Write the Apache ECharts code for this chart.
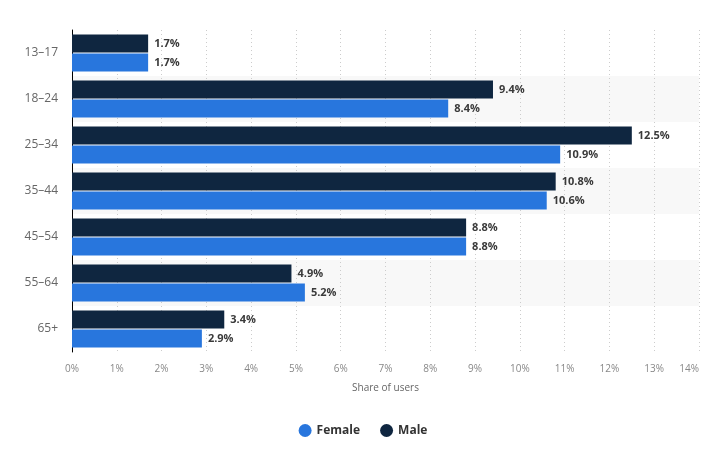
<!DOCTYPE html>
<html><head><meta charset="utf-8">
<script src="https://cdn.jsdelivr.net/npm/echarts@6/dist/echarts.min.js"></script>
<style>html,body{margin:0;padding:0;background:#fff}#c{width:726px;height:460px}</style>
</head><body><div id="c"></div>
<script>
const categories = ['13–17','18–24','25–34','35–44','45–54','55–64','65+'];
const maleValues = [1.7, 9.4, 12.5, 10.8, 8.8, 4.9, 3.4];
const femaleValues = [1.7, 8.4, 10.9, 10.6, 8.8, 5.2, 2.9];
const seriesNames = ['Female', 'Male'];
const axisTitle = 'Share of users';

const font = 'Open Sans';
const chart = echarts.init(document.getElementById('c'));
const labelCfg = {
  show: true, position: 'right', distance: 6,
  formatter: p => p.value + '%',
  color: '#3a3a3a', fontWeight: 'bold', fontSize: 11, fontFamily: font
};
chart.setOption({
  animation: false,
  grid: {left: 72, right: 27, top: 30, bottom: 108},
  legend: {
    data: seriesNames, bottom: 18, left: 'center', icon: 'circle',
    itemWidth: 13, itemHeight: 13, itemGap: 20,
    textStyle: {color: '#333', fontWeight: 'bold', fontSize: 12, fontFamily: font}
  },
  xAxis: {
    type: 'value', min: 0, max: 14, interval: 1,
    name: axisTitle, nameLocation: 'middle', nameGap: 31,
    nameTextStyle: {color: '#666', fontSize: 10, fontFamily: font},
    axisLabel: {formatter: v => v + '%', color: '#888', fontSize: 10, fontFamily: font, margin: 12, alignMaxLabel: 'right'},
    axisLine: {show: false}, axisTick: {show: false},
    splitLine: {show: true, lineStyle: {color: '#ccc', type: [1, 3], width: 1}}
  },
  yAxis: {
    type: 'category', data: categories, inverse: true,
    axisLine: {show: true, lineStyle: {color: '#000', width: 1}},
    axisTick: {show: false},
    axisLabel: {color: '#666', fontSize: 12, fontFamily: font, margin: 14},
    splitArea: {show: true, areaStyle: {color: ['rgba(255,255,255,0)', '#f8f8f8']}}
  },
  series: [
    {name: 'Male', type: 'bar', data: maleValues, barWidth: 18, barGap: '6%',
     itemStyle: {color: '#0f2640'}, label: labelCfg},
    {name: 'Female', type: 'bar', data: femaleValues, barWidth: 18, barGap: '6%',
     itemStyle: {color: '#2876dd'}, label: labelCfg}
  ]
});
</script></body></html>
